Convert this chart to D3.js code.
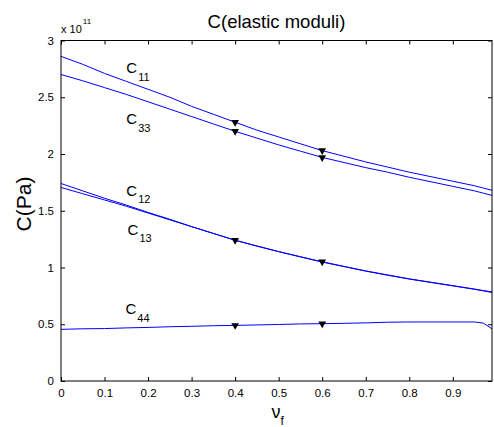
<!DOCTYPE html>
<html>
<head>
<meta charset="utf-8">
<script src="https://cdn.jsdelivr.net/npm/d3@7"></script>
<style>
  html, body { margin: 0; padding: 0; background: #fff; }
  svg { display: block; font-family: "Liberation Sans", Arial, sans-serif; }
</style>
</head>
<body>
<svg id="chart" width="494" height="427"></svg>
<script>
// Fibre volume fraction (x) and elastic moduli in units of 1e11 Pa
const nu = [0, 0.05, 0.1, 0.15, 0.2, 0.25, 0.3, 0.35, 0.4, 0.45, 0.5, 0.55, 0.6, 0.65, 0.7, 0.75, 0.8, 0.85, 0.9, 0.95, 0.97, 0.99];
const C11 = [2.86, 2.79, 2.71, 2.64, 2.57, 2.50, 2.42, 2.35, 2.28, 2.21, 2.15, 2.09, 2.03, 1.98, 1.93, 1.885, 1.84, 1.80, 1.76, 1.72, 1.70, 1.68];
const C33 = [2.70, 2.645, 2.585, 2.525, 2.46, 2.395, 2.33, 2.265, 2.20, 2.14, 2.08, 2.025, 1.97, 1.925, 1.88, 1.84, 1.795, 1.755, 1.715, 1.675, 1.655, 1.635];
const C12 = [1.74, 1.675, 1.61, 1.55, 1.485, 1.425, 1.36, 1.30, 1.24, 1.19, 1.14, 1.095, 1.05, 1.01, 0.97, 0.935, 0.90, 0.87, 0.84, 0.81, 0.797, 0.785];
const C13 = [1.705, 1.65, 1.595, 1.54, 1.48, 1.42, 1.36, 1.30, 1.24, 1.188, 1.14, 1.093, 1.048, 1.008, 0.968, 0.932, 0.898, 0.868, 0.838, 0.808, 0.794, 0.78];
const C44 = [0.455, 0.46, 0.462, 0.468, 0.472, 0.478, 0.482, 0.487, 0.49, 0.494, 0.498, 0.503, 0.505, 0.508, 0.512, 0.518, 0.52, 0.52, 0.52, 0.52, 0.51, 0.46];

const seriesNames = ["11", "33", "12", "13", "44"];
const seriesValues = [C11, C33, C12, C13, C44];
// Label anchor positions in data units (x, y) for each curve's name
const labelNu = [0.15, 0.15, 0.15, 0.153, 0.148];
const labelC = [2.71, 2.26, 1.63, 1.29, 0.59];

// Sample points marked with triangles
const markerNu = [0.4, 0.6];
const markedSeries = [C11, C33, C12, C44];

const xTicks = [0, 0.1, 0.2, 0.3, 0.4, 0.5, 0.6, 0.7, 0.8, 0.9];
const yTicks = [0, 0.5, 1, 1.5, 2, 2.5, 3];
const yTickLabels = ["0", "0.5", "1", "1.5", "2", "2.5", "3"];

const svg = d3.select("#chart");
const plotL = 61, plotR = 492, plotT = 40.5, plotB = 381;

const x = d3.scaleLinear().domain([0, 0.99]).range([plotL, plotR]);
const y = d3.scaleLinear().domain([0, 3]).range([plotB, plotT]);

// Curves
const line = d3.line().x((d, i) => x(nu[i])).y(d => y(d));
svg.append("g").selectAll("path").data(seriesValues).join("path")
  .attr("d", d => line(d))
  .attr("fill", "none")
  .attr("stroke", "#0000ff")
  .attr("stroke-width", 1);

// Markers
const tri = d3.symbol().type(d3.symbolTriangle).size(26);
const markerData = [];
markedSeries.forEach(s => markerNu.forEach(m => {
  const i = nu.indexOf(m);
  markerData.push([m, s[i]]);
}));
svg.append("g").selectAll("path").data(markerData).join("path")
  .attr("d", tri)
  .attr("transform", d => `translate(${x(d[0])},${y(d[1])}) rotate(180)`)
  .attr("fill", "#000");

// Axes: ticks point inward, box drawn on all four sides
const axisFont = "11.5px";
const gx = svg.append("g").attr("transform", `translate(0,${plotB})`)
  .call(d3.axisBottom(x).tickValues(xTicks).tickSize(-4).tickPadding(8).tickFormat(d3.format("")));
const gxt = svg.append("g").attr("transform", `translate(0,${plotT})`)
  .call(d3.axisTop(x).tickValues(xTicks).tickSize(-4).tickFormat(""));
const gy = svg.append("g").attr("transform", `translate(${plotL},0)`)
  .call(d3.axisLeft(y).tickValues(yTicks).tickSize(-4).tickPadding(7).tickFormat((d, i) => yTickLabels[i]));
const gyr = svg.append("g").attr("transform", `translate(${plotR},0)`)
  .call(d3.axisRight(y).tickValues(yTicks).tickSize(-4).tickFormat(""));

[gx, gxt, gy, gyr].forEach(g => {
  g.select(".domain").remove();
  g.selectAll(".tick line").attr("stroke", "#000");
  g.selectAll("text").attr("fill", "#000").style("font-size", axisFont).style("font-family", "Liberation Sans, Arial, sans-serif");
});
svg.append("rect")
  .attr("x", plotL).attr("y", plotT).attr("width", plotR - plotL).attr("height", plotB - plotT)
  .attr("fill", "none").attr("stroke", "#000").attr("stroke-width", 1);

// Curve labels: C with numeric subscript
const lab = svg.append("g").selectAll("text").data(seriesNames).join("text")
  .attr("x", (d, i) => x(labelNu[i]))
  .attr("y", (d, i) => y(labelC[i]))
  .attr("fill", "#000")
  .style("font-size", "15px");
lab.append("tspan").text("C");
lab.append("tspan").attr("dy", 7.5).attr("dx", 1).style("font-size", "11px").text(d => d);

// Exponent note above the y axis
const ex = svg.append("text").attr("x", plotL).attr("y", 32.5).style("font-size", "11px").attr("fill", "#000");
ex.append("tspan").text("x 10");
ex.append("tspan").attr("dy", -8.5).attr("dx", 1).style("font-size", "8px").text("11");

// Title
svg.append("text").attr("x", (plotL + plotR) / 2).attr("y", 28.3)
  .attr("text-anchor", "middle").style("font-size", "18.5px").attr("fill", "#000")
  .text("C(elastic moduli)");

// Y axis title
svg.append("text")
  .attr("transform", `translate(30.5,204) rotate(-90)`)
  .attr("text-anchor", "middle").style("font-size", "21px").attr("fill", "#000")
  .text("C(Pa)");

// X axis title: nu with subscript f
const xl = svg.append("text").attr("x", (plotL + plotR) / 2 - 5).attr("y", 417.5)
  .style("font-size", "18px").attr("fill", "#000");
xl.append("tspan").text("ν");
xl.append("tspan").attr("dy", 7).style("font-size", "12px").text("f");
</script>
</body>
</html>
